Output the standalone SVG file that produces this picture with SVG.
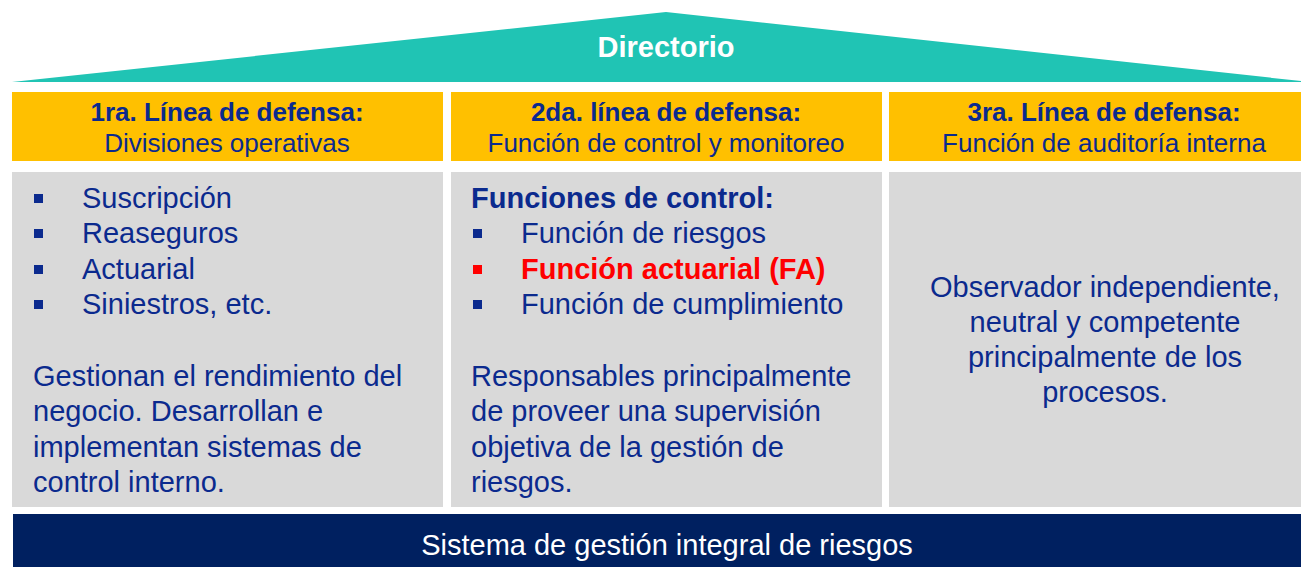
<svg xmlns="http://www.w3.org/2000/svg" width="1301" height="567" viewBox="0 0 1301 567">
<style>
.t{font-family:"Liberation Sans",Arial,sans-serif;fill:#0B2A8E}
.h{font-size:26px}
.b{font-weight:bold}
.body{font-size:29px}
.c{text-anchor:middle}
.w{fill:#FFFFFF}
.red{fill:#FF0000}
.yel{fill:#FFC000}
.gry{fill:#D9D9D9}
.blt{fill:#0B2A8E}
</style>
<rect width="1301" height="567" fill="#FFFFFF"/>
<g id="directorio">
<polygon points="12,82 666,12 1301,81 1301,82" fill="#20C4B4"/>
<text class="t w b c" x="666" y="57" font-size="29">Directorio</text>
</g>
<g id="linea1">
<rect class="yel" x="12" y="92" width="431" height="69"/>
<text class="t h b c" x="227" y="121">1ra. Línea de defensa:</text>
<text class="t h c" x="227" y="152">Divisiones operativas</text>
</g>
<g id="linea2">
<rect class="yel" x="451" y="92" width="431" height="69"/>
<text class="t h b c" x="666" y="121">2da. línea de defensa:</text>
<text class="t h c" x="666" y="152">Función de control y monitoreo</text>
</g>
<g id="linea3">
<rect class="yel" x="889" y="92" width="412" height="69"/>
<text class="t h b c" x="1104" y="121">3ra. Línea de defensa:</text>
<text class="t h c" x="1104" y="152">Función de auditoría interna</text>
</g>
<g id="detalle1">
<rect class="gry" x="12" y="172" width="431" height="335"/>
<rect class="blt" x="34" y="194" width="9" height="9"/>
<rect class="blt" x="34" y="229" width="9" height="9"/>
<rect class="blt" x="34" y="265" width="9" height="9"/>
<rect class="blt" x="34" y="300" width="9" height="9"/>
<text class="t body" x="82" y="208">Suscripción</text>
<text class="t body" x="82" y="243">Reaseguros</text>
<text class="t body" x="82" y="279">Actuarial</text>
<text class="t body" x="82" y="314">Siniestros, etc.</text>
<text class="t body" x="33" y="386">Gestionan el rendimiento del</text>
<text class="t body" x="33" y="421">negocio. Desarrollan e</text>
<text class="t body" x="33" y="457">implementan sistemas de</text>
<text class="t body" x="33" y="492">control interno.</text>
</g>
<g id="detalle2">
<rect class="gry" x="451" y="172" width="431" height="335"/>
<text class="t body b" x="471" y="208">Funciones de control:</text>
<rect class="blt" x="473" y="229" width="9" height="9"/>
<rect class="red" x="473" y="265" width="9" height="9"/>
<rect class="blt" x="473" y="300" width="9" height="9"/>
<text class="t body" x="521" y="243">Función de riesgos</text>
<text class="t body b red" x="521" y="279">Función actuarial (FA)</text>
<text class="t body" x="521" y="314">Función de cumplimiento</text>
<text class="t body" x="471" y="386">Responsables principalmente</text>
<text class="t body" x="471" y="421">de proveer una supervisión</text>
<text class="t body" x="471" y="457">objetiva de la gestión de</text>
<text class="t body" x="471" y="492">riesgos.</text>
</g>
<g id="detalle3">
<rect class="gry" x="889" y="172" width="412" height="335"/>
<text class="t body c" x="1105" y="297">Observador independiente,</text>
<text class="t body c" x="1105" y="332">neutral y competente</text>
<text class="t body c" x="1105" y="367">principalmente de los</text>
<text class="t body c" x="1105" y="402">procesos.</text>
</g>
<g id="sistema">
<rect x="13" y="514" width="1288" height="53" fill="#002060"/>
<text class="t w c" x="667" y="555" font-size="29">Sistema de gestión integral de riesgos</text>
</g>
<g id="connectors"></g>
</svg>
